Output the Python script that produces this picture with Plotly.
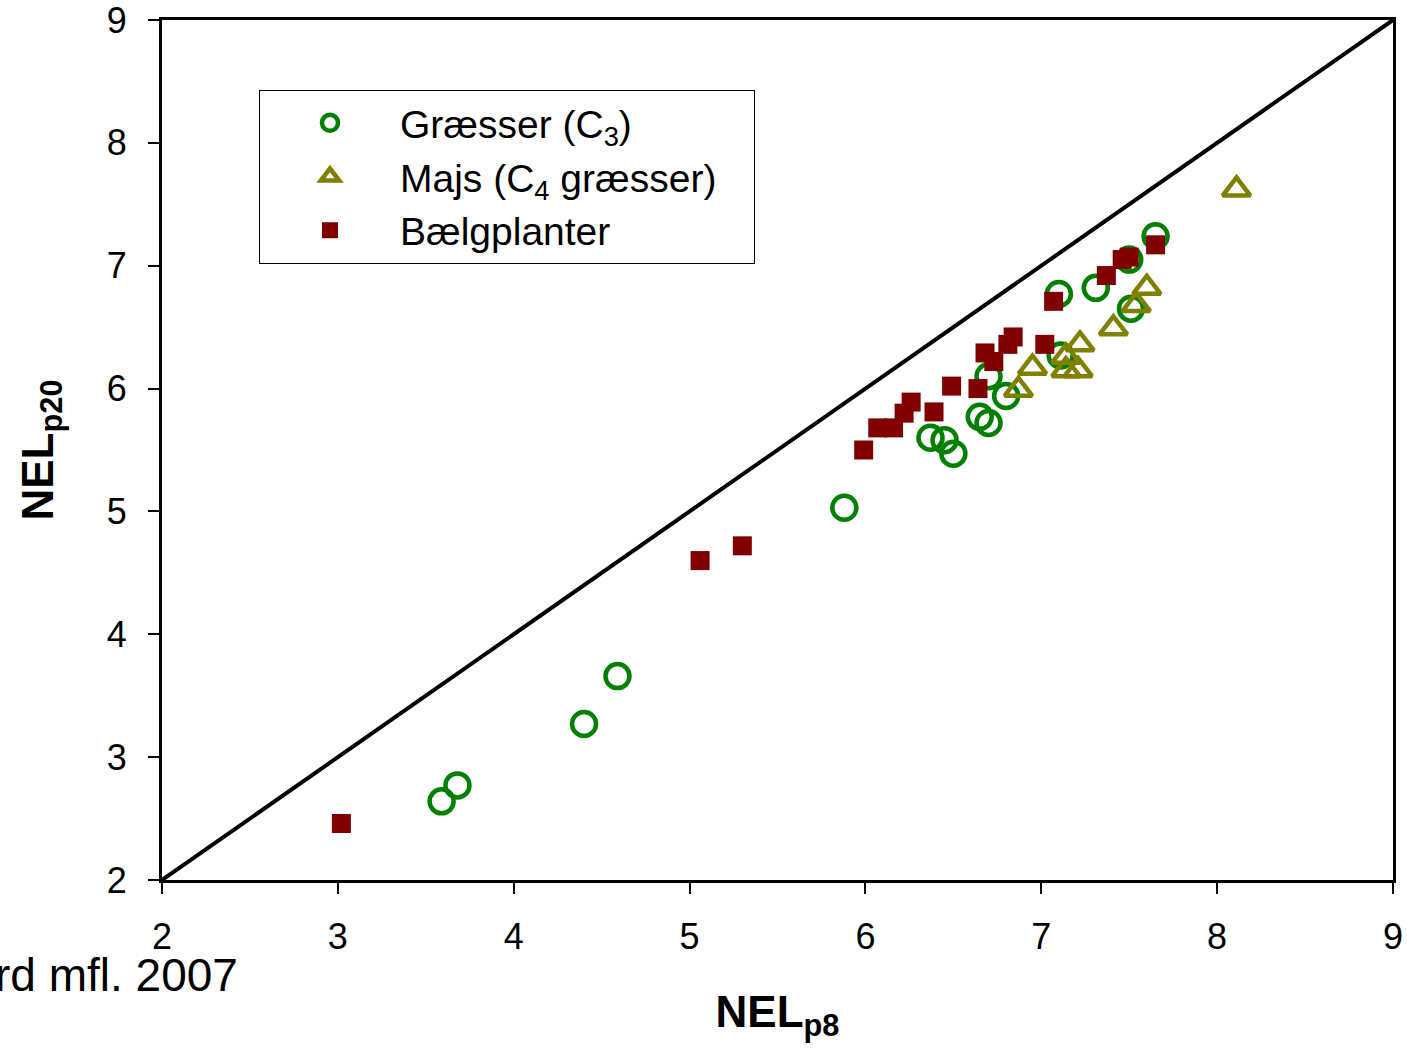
import plotly.graph_objects as go

# Græsser (C3)
grass_x = [3.59, 3.68, 4.40, 4.59, 5.88, 6.37, 6.45, 6.50, 6.65, 6.70, 6.70, 6.80, 7.10, 7.31, 7.50, 7.65, 7.51, 7.11]
grass_y = [2.64, 2.77, 3.27, 3.66, 5.03, 5.60, 5.58, 5.47, 5.77, 5.72, 6.10, 5.94, 6.77, 6.82, 7.05, 7.24, 6.65, 6.27]

# Majs (C4 græsser)
maize_x = [6.87, 6.95, 7.14, 7.14, 7.21, 7.22, 7.41, 7.54, 7.60, 8.11]
maize_y = [5.99, 6.17, 6.26, 6.15, 6.15, 6.36, 6.49, 6.68, 6.82, 7.62]

# Bælgplanter
legume_x = [3.02, 5.06, 5.30, 5.99, 6.07, 6.16, 6.22, 6.26, 6.39, 6.49, 6.64, 6.68, 6.73, 6.81, 6.84, 7.02, 7.07, 7.37, 7.46, 7.50, 7.65]
legume_y = [2.46, 4.60, 4.72, 5.50, 5.68, 5.68, 5.80, 5.89, 5.81, 6.02, 6.00, 6.29, 6.22, 6.36, 6.42, 6.36, 6.71, 6.92, 7.05, 7.07, 7.17]

line_x = [2, 9]
line_y = [2, 9]

fig = go.Figure()
fig.add_trace(go.Scatter(x=line_x, y=line_y, mode="lines",
                         line=dict(color="black", width=4), showlegend=False, hoverinfo="skip"))
fig.add_trace(go.Scatter(x=grass_x, y=grass_y, mode="markers", name="Græsser (C<sub>3</sub>)",
                         marker=dict(symbol="circle-open", size=24, color="#008000",
                                     line=dict(width=4.5, color="#008000"))))
fig.add_trace(go.Scatter(x=maize_x, y=maize_y, mode="markers",
                         name="Majs (C<sub>4</sub> græsser)&nbsp;&nbsp;&nbsp;",
                         marker=dict(symbol="triangle-up-open", size=24, color="#808000",
                                     line=dict(width=4.5, color="#808000"))))
fig.add_trace(go.Scatter(x=legume_x, y=legume_y, mode="markers", name="Bælgplanter",
                         marker=dict(symbol="square", size=19, color="#800000",
                                     line=dict(width=0))))

axis_common = dict(range=[2, 9], dtick=1, tick0=2, showgrid=False, zeroline=False,
                   showline=True, linecolor="black", linewidth=3, mirror=True,
                   ticks="outside", ticklen=11, tickwidth=2, tickcolor="black",
                   automargin=False, ticklabeloverflow="allow",
                   tickfont=dict(family="Liberation Sans, Arial", size=36, color="black"))

fig.update_layout(
    width=1407, height=1053,
    margin=dict(l=162, r=14, t=20, b=173),
    paper_bgcolor="white", plot_bgcolor="white",
    font=dict(family="Liberation Sans, Arial", color="black"),
    xaxis=dict(**axis_common, ticklabelstandoff=12,
               title=dict(text="<b>NEL<sub>p8</sub></b>", font=dict(size=44), standoff=40)),
    yaxis=dict(**axis_common, ticklabelstandoff=14,
               title=dict(text="<b>NEL<sub>p20</sub></b>", font=dict(size=44), standoff=40)),
    legend=dict(x=0.0788, y=0.9186, xanchor="left", yanchor="top",
                bgcolor="white", bordercolor="black", borderwidth=1,
                font=dict(size=39, color="black"), itemsizing="trace", tracegroupgap=0,
                itemwidth=130),
    annotations=[dict(text="rd mfl. 2007", xref="paper", yref="paper", x=0.0634, y=-0.111,
                      xanchor="right", yanchor="middle", showarrow=False,
                      font=dict(size=46, color="black"))],
)

fig.write_html("out.html")
